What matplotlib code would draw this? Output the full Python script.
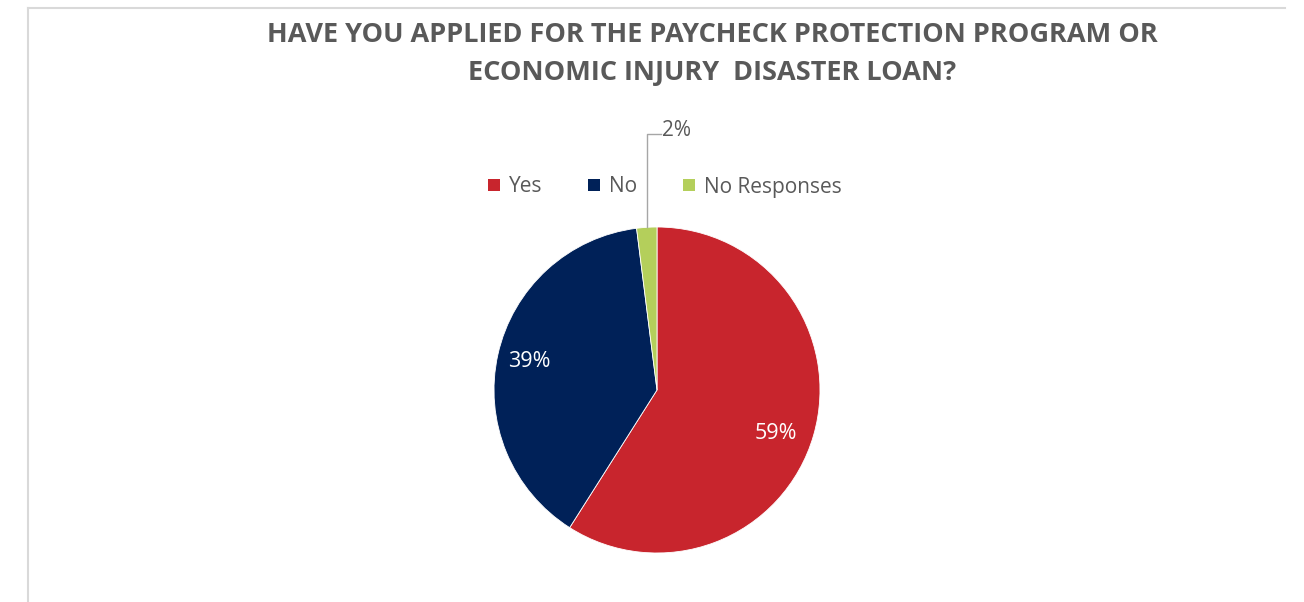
import numpy as np
import matplotlib
matplotlib.use("Agg")
import matplotlib.pyplot as plt
from matplotlib.patches import Patch
from matplotlib.lines import Line2D

categories = ["Yes", "No", "No Responses"]
values = [59, 39, 2]
labels_txt = ["59%", "39%", "2%"]
colors = ["#C8252D", "#002158", "#B4CF5B"]

title = "HAVE YOU APPLIED FOR THE PAYCHECK PROTECTION PROGRAM OR\nECONOMIC INJURY  DISASTER LOAN?"

W, H = 1304, 602
fig = plt.figure(figsize=(W / 100, H / 100), dpi=100)
fig.patch.set_facecolor("white")

# chart frame lines
fig.add_artist(Line2D([28 / W, 28 / W], [0, 1 - 8 / H], color="#D9D9D9", lw=1.5))
fig.add_artist(Line2D([28 / W, 1285 / W], [1 - 8 / H, 1 - 8 / H], color="#D9D9D9", lw=1.5))

cx, cy, R = 657, 390, 163
ax = fig.add_axes([0, 0, 1, 1])
wedges, _ = ax.pie(values, colors=colors, startangle=90, counterclock=False,
                   radius=1, center=(0, 0), frame=True,
                   wedgeprops=dict(edgecolor="white", linewidth=0.6))
ax.set_xlim(-cx / R, (W - cx) / R)
ax.set_ylim((cy - H) / R, cy / R)
ax.set_aspect("auto")
ax.axis("off")

font = "Open Sans"
# inside labels
pct_r = [0.78, 0.80]
offs = [-4, 0]
for i in range(2):
    w = wedges[i]
    mid = np.deg2rad((w.theta1 + w.theta2) / 2 + offs[i])
    ax.text(pct_r[i] * np.cos(mid), pct_r[i] * np.sin(mid), labels_txt[i],
            color="white", fontsize=15.5, ha="center", va="center", family=font)

# small slice with leader line
w = wedges[2]
mid = np.deg2rad((w.theta1 + w.theta2) / 2)
x0, y0 = np.cos(mid), np.sin(mid)
ytop = (cy - 134) / R
xend = x0 + 14 / R
ax.plot([x0, x0, xend], [y0, ytop, ytop], color="#A6A6A6", lw=1)
ax.text(xend + 1 / R, ytop + 3 / R, labels_txt[2], color="#595959", fontsize=15,
        ha="left", va="center", family=font)

fig.text(712 / W, 1 - 54 / H, title, ha="center", va="center", fontsize=19.5,
         fontweight="bold", color="#595959", family=font, linespacing=1.6)

handles = [Patch(facecolor=c, edgecolor="none") for c in colors]
leg = fig.legend(handles, categories, loc="center", bbox_to_anchor=(665 / W, 1 - 187 / H),
                 ncol=3, frameon=False, handlelength=0.55, handleheight=0.55,
                 handletextpad=0.45, columnspacing=2.2,
                 prop=dict(family=font, size=15))
for t in leg.get_texts():
    t.set_color("#595959")

fig.savefig("out.png", dpi=100, facecolor="white")
